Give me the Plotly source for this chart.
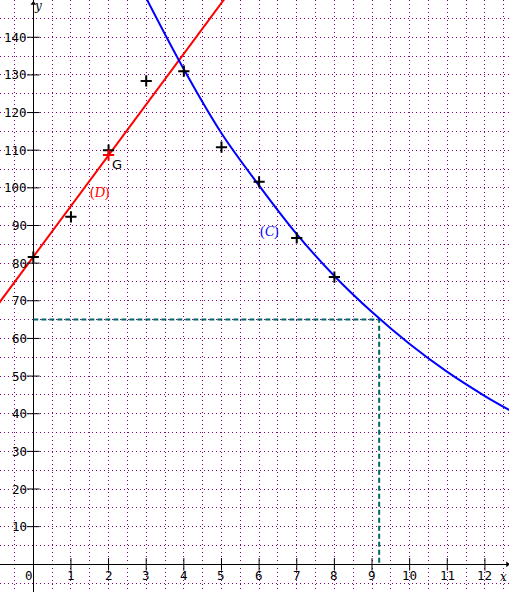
import plotly.graph_objects as go

# Data points (crosses)
pts_x = [0, 1, 2, 3, 4, 5, 6, 7, 8]
pts_y = [81.6, 92.3, 110.0, 128.4, 131.0, 110.8, 101.6, 86.7, 76.3]

# Mean point G
g_x = [2]
g_y = [108.7]

# Line (D) read at two abscissas
d_x = [-1, 6]
d_y = [68.2, 162.6]

# Curve (C) read along its path
c_x = [3, 4, 5, 6, 7, 8, 9, 10, 11, 12, 12.7]
c_y = [150.4, 131.5, 114.5, 100.6, 87.7, 76.6, 67.0, 58.5, 51.1, 44.7, 40.7]

# Reading of the value 65
read_x = 9.19
read_y = 65

x_ticks = list(range(1, 13))
y_ticks = list(range(10, 150, 10))

fig = go.Figure()

# Dashed reading lines
fig.add_trace(go.Scatter(x=[0, read_x, read_x], y=[read_y, read_y, 0], mode="lines",
                         line=dict(color="#006666", width=2, dash="5px,3px"),
                         hoverinfo="skip", showlegend=False))

# Line D
fig.add_trace(go.Scatter(x=d_x, y=d_y, mode="lines", line=dict(color="#ff0000", width=2),
                         showlegend=False))
# Curve C
fig.add_trace(go.Scatter(x=c_x, y=c_y, mode="lines", line=dict(color="#0000ff", width=2, shape="spline"),
                         showlegend=False))

# Axis ticks
fig.add_trace(go.Scatter(x=[0] * len(y_ticks), y=y_ticks, mode="markers",
                         marker=dict(symbol="line-ew", size=9, line=dict(color="black", width=1)),
                         showlegend=False, hoverinfo="skip"))
fig.add_trace(go.Scatter(x=x_ticks, y=[0] * len(x_ticks), mode="markers",
                         marker=dict(symbol="line-ns", size=9, line=dict(color="black", width=1)),
                         showlegend=False, hoverinfo="skip"))
# Arrow heads
fig.add_trace(go.Scatter(x=[0], y=[149], mode="markers",
                         marker=dict(symbol="triangle-up", size=5, color="black"),
                         showlegend=False, hoverinfo="skip"))
fig.add_trace(go.Scatter(x=[12.6], y=[0], mode="markers",
                         marker=dict(symbol="triangle-right", size=5, color="black"),
                         showlegend=False, hoverinfo="skip"))

# Data crosses
fig.add_trace(go.Scatter(x=pts_x, y=pts_y, mode="markers",
                         marker=dict(symbol="cross-thin", size=8, line=dict(color="black", width=2)),
                         showlegend=False))
# G
fig.add_trace(go.Scatter(x=g_x, y=g_y, mode="markers",
                         marker=dict(symbol="cross-thin", size=8, line=dict(color="#ff0000", width=2)),
                         showlegend=False))

font = dict(family="DejaVu Sans Mono, monospace", size=12.5, color="black")
ann = []
for v in y_ticks:
    ann.append(dict(x=-0.11, y=v, text=str(v), showarrow=False, xanchor="right", yanchor="middle", font=font))
for v in x_ticks:
    ann.append(dict(x=v, y=-2.9, text=str(v), showarrow=False, xanchor="center", yanchor="middle", font=font))
ann.append(dict(x=-0.11, y=-2.9, text="0", showarrow=False, xanchor="center", yanchor="middle", font=font))
ann.append(dict(x=0.12, y=148.2, text="<i>y</i>", showarrow=False, xanchor="center", yanchor="middle",
                font=dict(family="DejaVu Serif, serif", size=12, color="black")))
ann.append(dict(x=12.5, y=-3.3, text="<i>x</i>", showarrow=False, xanchor="center", yanchor="middle",
                font=dict(family="DejaVu Serif, serif", size=12, color="black")))
ann.append(dict(x=2.22, y=106.3, text="G", showarrow=False, xanchor="center", yanchor="middle",
                font=dict(family="DejaVu Sans, sans-serif", size=13, color="black")))
ann.append(dict(x=1.77, y=98.6, text="(<i>D</i>)", showarrow=False, xanchor="center", yanchor="middle",
                font=dict(family="Liberation Serif, serif", size=14, color="#ff0000")))
ann.append(dict(x=6.28, y=88.3, text="(<i>C</i>)", showarrow=False, xanchor="center", yanchor="middle",
                font=dict(family="Liberation Serif, serif", size=14, color="#0000ff")))

fig.update_layout(
    width=509, height=592, margin=dict(l=0, r=0, t=0, b=0),
    paper_bgcolor="white", plot_bgcolor="white",
    annotations=ann, showlegend=False,
    xaxis=dict(range=[-0.885, 12.64], tick0=0, dtick=0.5, showticklabels=False, ticks="",
               showgrid=True, gridcolor="#800080", gridwidth=1, griddash="1px,3px",
               zeroline=True, zerolinecolor="black", zerolinewidth=1, showline=False, fixedrange=True),
    yaxis=dict(range=[-7.36, 149.9], tick0=0, dtick=5, showticklabels=False, ticks="",
               showgrid=True, gridcolor="#800080", gridwidth=1, griddash="1px,3px",
               zeroline=True, zerolinecolor="black", zerolinewidth=1, showline=False, fixedrange=True),
)

fig.write_html("out.html", config={"displayModeBar": False},
               post_script="document.body.style.margin='0';document.body.style.overflow='hidden';")
